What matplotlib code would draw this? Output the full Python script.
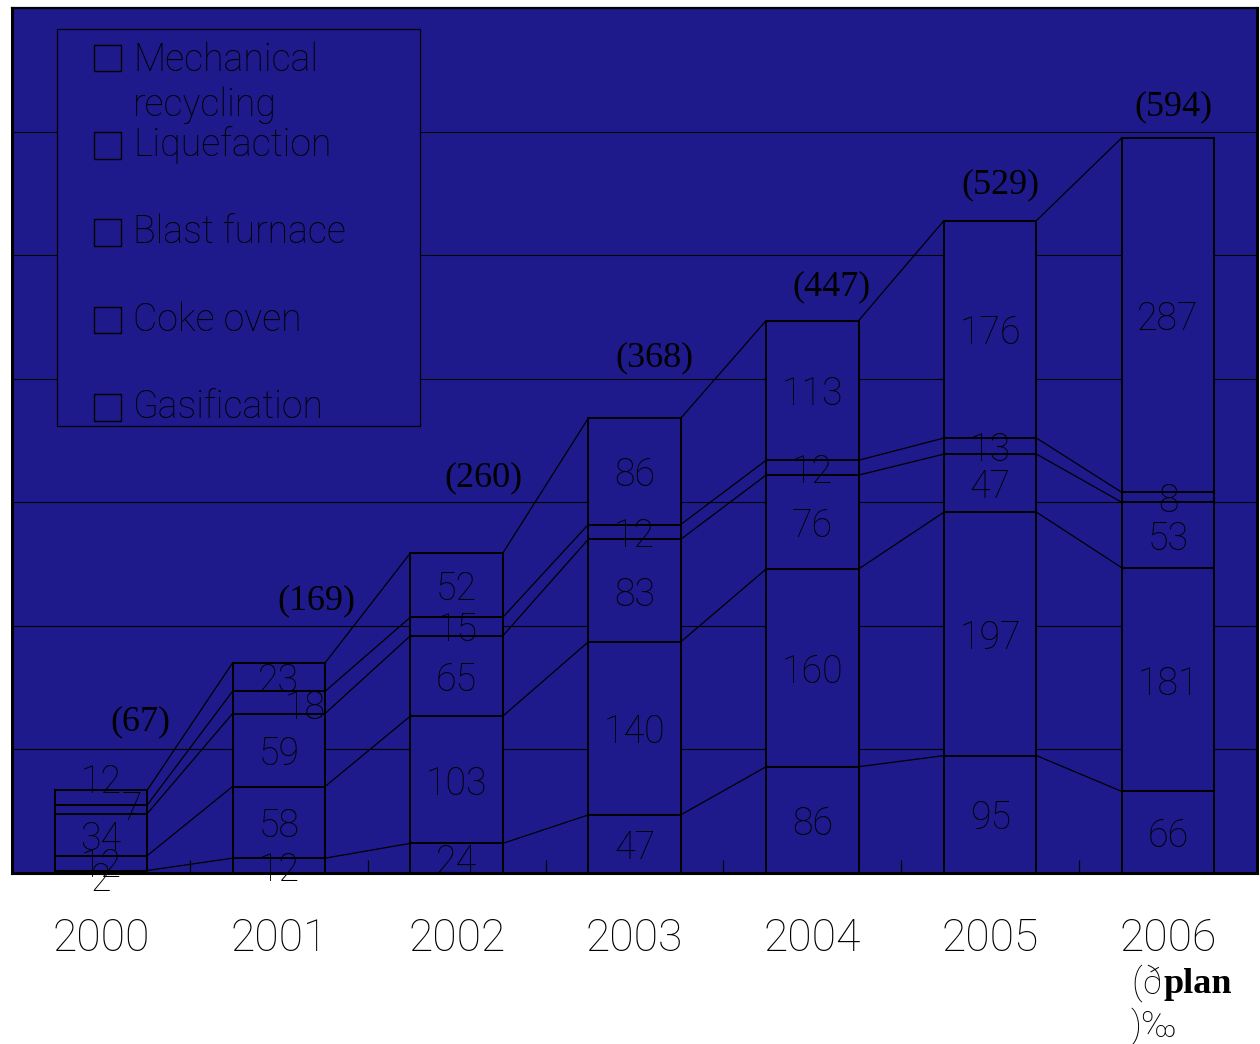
import matplotlib
matplotlib.use("Agg")
import matplotlib.pyplot as plt
from matplotlib.patches import Rectangle
import numpy as np

# ---- data (thousand tonnes) ----
years = ["2000", "2001", "2002", "2003", "2004", "2005", "2006"]
gasification = [2, 12, 24, 47, 86, 95, 66]
coke_oven = [12, 58, 103, 140, 160, 197, 181]
blast_furnace = [34, 59, 65, 83, 76, 47, 53]
liquefaction = [7, 18, 15, 12, 12, 13, 8]
mechanical_recycling = [12, 23, 52, 86, 113, 176, 287]
totals = [67, 169, 260, 368, 447, 529, 594]
legend_labels = ["Mechanical\nrecycling", "Liquefaction", "Blast furnace",
                 "Coke oven", "Gasification"]

# ---- style ----
BG = "#1E1A8C"
SANS = ["Roboto", "Liberation Sans", "DejaVu Sans"]
SERIF = ["Liberation Serif", "DejaVu Serif"]
BAR_W = 0.52

stack = [gasification, coke_oven, blast_furnace, liquefaction, mechanical_recycling]

fig = plt.figure(figsize=(12.6, 10.44), dpi=100)
fig.patch.set_facecolor("white")
ax = fig.add_axes([12 / 1260, 1 - 873 / 1044, 1245 / 1260, 865 / 1044])
ax.set_facecolor(BG)

x = np.arange(len(years))
ax.set_xlim(-0.5, len(years) - 0.5)
ax.set_ylim(0, 700)

# horizontal gridlines
ax.set_yticks(range(100, 700, 100))
ax.yaxis.grid(True, color="black", linewidth=0.8)
ax.set_axisbelow(True)
ax.tick_params(axis="y", length=0, labelleft=False)

# stacked bars + series lines joining the segment tops
bottom = np.zeros(len(years))
for vals in stack:
    vals = np.array(vals, dtype=float)
    ax.bar(x, vals, bottom=bottom, width=BAR_W, facecolor=BG,
           edgecolor="black", linewidth=1.4, zorder=2)
    top = bottom + vals
    for i in range(len(years) - 1):
        ax.plot([x[i] + BAR_W / 2, x[i + 1] - BAR_W / 2], [top[i], top[i + 1]],
                color="black", linewidth=0.9, zorder=2)
    bottom = top

# segment value labels (offsets in points for the crowded small segments)
label_shift = {(0, 4): (0, 11), (0, 3): (22, 0), (0, 0): (0, -6),
               (0, 1): (0, -2), (1, 3): (19, -4)}
bottom = np.zeros(len(years))
for s, vals in enumerate(stack):
    for i, v in enumerate(vals):
        dx, dy = label_shift.get((i, s), (0, -3))
        ax.annotate(str(v), (x[i], bottom[i] + v / 2), xytext=(dx, dy),
                    textcoords="offset points", ha="center", va="center",
                    fontsize=27, family=SANS, fontweight="light",
                    color="black", zorder=4)
    bottom = bottom + np.array(vals)

# totals in parentheses above each bar
total_dx = [0.22, 0.21, 0.15, 0.11, 0.11, 0.06, 0.03]
total_dy = [55, 51, 60, 49, 27, 28, 26]
for i, t in enumerate(totals):
    ax.text(x[i] + total_dx[i], t + total_dy[i], f"({t})", ha="center",
            va="center", fontsize=26, family=SERIF, color="black", zorder=4)

# x axis: year labels, inward ticks between categories
ax.set_xticks(x)
ax.set_xticklabels(years, fontsize=32, family=SANS, fontweight="light")
ax.tick_params(axis="x", length=0, pad=32)
ax.set_xticks(np.arange(0.5, len(years) - 1, 1.0), minor=True)
ax.tick_params(axis="x", which="minor", direction="in", length=9.5,
               width=0.9, color="black")

for sp in ax.spines.values():
    sp.set_color("black")
    sp.set_linewidth(2.2)
ax.spines["top"].set_linewidth(1.6)

# note under the 2006 label
fig.text(1131 / 1260, 1 - 993 / 1044, "(ð", fontsize=26, family=SANS,
         fontweight="light", va="baseline", ha="left")
fig.text(1163 / 1260, 1 - 993 / 1044, "plan", fontsize=26, family=SERIF,
         fontweight="bold", va="baseline", ha="left")
fig.text(1131 / 1260, 1 - 1036 / 1044, ")‰", fontsize=26, family=SANS,
         fontweight="light", va="baseline", ha="left")

# legend box
ax.add_patch(Rectangle((0.0361, 0.5168), 0.2916, 0.4589, transform=ax.transAxes,
                       facecolor=BG, edgecolor="black", linewidth=0.9, zorder=5))
marker_y = [0.9422, 0.8416, 0.7410, 0.6393, 0.5387]
for lbl, my in zip(legend_labels, marker_y):
    ax.add_patch(Rectangle((0.0659, my - 0.0156), 0.0217, 0.0312,
                           transform=ax.transAxes, facecolor=BG,
                           edgecolor="black", linewidth=1.0, zorder=6))
    if "\n" in lbl:
        ax.text(0.0972, my + 0.019, lbl, transform=ax.transAxes, ha="left",
                va="top", fontsize=27, family=SANS, fontweight="light",
                color="black", zorder=6, linespacing=1.25)
    else:
        ax.text(0.0972, my, lbl, transform=ax.transAxes, ha="left",
                va="center", fontsize=27, family=SANS, fontweight="light",
                color="black", zorder=6)

fig.savefig("out.png", dpi=100, facecolor="white")
